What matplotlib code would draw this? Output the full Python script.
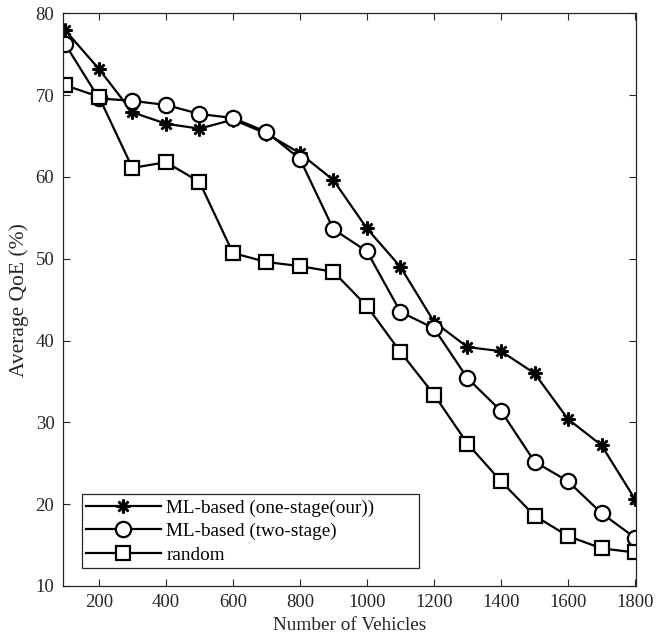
import matplotlib
matplotlib.use("Agg")
import matplotlib.pyplot as plt
from matplotlib.patches import Rectangle

vehicles = [100, 200, 300, 400, 500, 600, 700, 800, 900, 1000, 1100, 1200, 1300, 1400, 1500, 1600, 1700, 1800]
one_stage = [77.9, 73.2, 67.9, 66.5, 65.9, 67.0, 65.3, 62.9, 59.6, 53.7, 49.0, 42.3, 39.2, 38.7, 36.0, 30.4, 27.2, 20.6]
two_stage = [76.2, 69.6, 69.3, 68.8, 67.7, 67.2, 65.5, 62.2, 53.6, 50.9, 43.5, 41.5, 35.4, 31.4, 25.2, 22.8, 18.9, 15.9]
random_ = [71.2, 69.8, 61.1, 61.8, 59.4, 50.7, 49.6, 49.1, 48.4, 44.2, 38.6, 33.4, 27.4, 22.8, 18.6, 16.1, 14.6, 14.1]
labels = ["ML-based (one-stage(our))", "ML-based (two-stage)", "random"]
xticks = [200, 400, 600, 800, 1000, 1200, 1400, 1600, 1800]
yticks = [10, 20, 30, 40, 50, 60, 70, 80]

plt.rcParams['font.family'] = ['Liberation Serif', 'DejaVu Serif']
W, H = 661, 637
fig = plt.figure(figsize=(W / 100, H / 100), dpi=100)
L, R, T, B = 62.7, 635.7, 13.3, 586
ax = fig.add_axes([L / W, (H - B) / H, (R - L) / W, (B - T) / H])

gray = '#262626'
lw = 1.6
ax.plot(vehicles, one_stage, color='black', lw=lw, marker=(8, 2, 0), markersize=10,
        markeredgewidth=1.8, markerfacecolor='black', label=labels[0])
ax.plot(vehicles, two_stage, color='black', lw=lw, marker='o', markersize=11,
        markeredgewidth=1.6, markerfacecolor='white', label=labels[1])
ax.plot(vehicles, random_, color='black', lw=lw, marker='s', markersize=9.5,
        markeredgewidth=1.6, markerfacecolor='white', label=labels[2])

ax.set_xlim(92, 1802)
ax.set_ylim(10, 80)
ax.set_xticks(xticks)
ax.set_yticks(yticks)
ax.tick_params(direction='in', top=True, right=True, labelsize=13.5, length=5,
               color=gray, labelcolor=gray, width=0.8, pad=6)
for s in ax.spines.values():
    s.set_color(gray)
    s.set_linewidth(0.9)

ax.set_xlabel("Number of Vehicles", fontsize=13.9, color=gray, labelpad=4)
ax.set_ylabel("Average QoE (%)", fontsize=15.5, color=gray, labelpad=5)

# legend frame (pixel box 82..419 x 494..567)
def px2ax(x, y):
    return ((x - L) / (R - L), (B - y) / (B - T))

x0, y0 = px2ax(82, 567.5)
x1, y1 = px2ax(419, 494)
ax.add_patch(Rectangle((x0, y0), x1 - x0, y1 - y0, transform=ax.transAxes,
                       facecolor='white', edgecolor=gray, lw=0.9, zorder=4))

leg = ax.legend(loc='lower left', bbox_to_anchor=px2ax(82, 567.5), fontsize=13.8,
                frameon=False, handlelength=3.9,
                borderpad=0.2, labelspacing=0.32, handletextpad=0.3, borderaxespad=0)
leg.set_zorder(5)

fig.savefig("out.png", dpi=100)
